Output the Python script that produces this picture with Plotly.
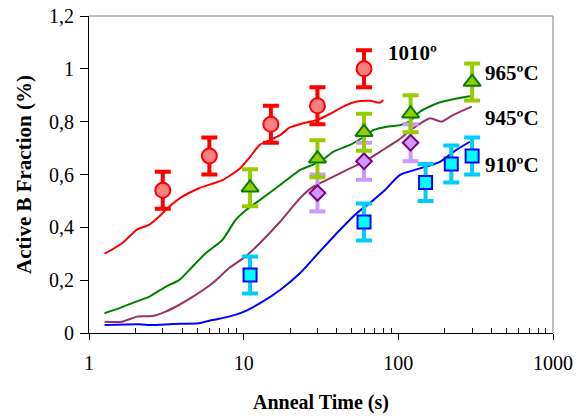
import math
import plotly.graph_objects as go

# ---------------- data ----------------
# measured points (anneal time in s, active fraction)
t_1010 = [3, 6, 15, 30, 60]
v_1010 = [0.54, 0.67, 0.79, 0.86, 1.00]
e_1010 = [0.07, 0.07, 0.07, 0.07, 0.07]

t_965 = [11, 30, 60, 120, 300]
v_965 = [0.55, 0.66, 0.76, 0.83, 0.95]
e_965 = [0.07, 0.07, 0.07, 0.07, 0.07]

t_945 = [30, 60, 120]
v_945 = [0.53, 0.65, 0.72]
e_945 = [0.07, 0.07, 0.07]

t_910 = [11, 60, 150, 220, 300]
v_910 = [0.22, 0.42, 0.57, 0.64, 0.67]
e_910 = [0.07, 0.07, 0.07, 0.07, 0.07]

# simulated curves
ct_1010 = [1.26, 1.64, 2.05, 2.44, 2.83, 3.29, 4.01, 5.14, 7.28, 9.46, 11, 12.7, 14.8,
           17.2, 19.9, 24.3, 29.6, 36.1, 44, 53.8, 65.5, 76, 80]
cv_1010 = [0.30, 0.34, 0.392, 0.409, 0.44, 0.478, 0.516, 0.548, 0.579, 0.623, 0.667, 0.712, 0.73,
           0.749, 0.778, 0.794, 0.806, 0.829, 0.857, 0.876, 0.879, 0.872, 0.882]

ct_965 = [1.26, 1.56, 2.0, 2.44, 3.13, 3.82, 4.66, 5.68, 7.28, 8.87, 10.05, 12.7, 17.2,
          23.1, 31.1, 37.9, 48.7, 60, 68.9, 84, 102, 118, 138, 177, 226, 298]
cv_965 = [0.075, 0.093, 0.118, 0.137, 0.175, 0.20, 0.251, 0.302, 0.352, 0.428, 0.459, 0.503, 0.56,
          0.617, 0.648, 0.686, 0.712, 0.743, 0.768, 0.781, 0.787, 0.80, 0.838, 0.869, 0.885, 0.897]

ct_945 = [1.26, 1.64, 2.05, 2.56, 3.13, 3.82, 4.9, 6.28, 8.03, 10.3, 12.7, 17.2, 23.1,
          28.2, 36.1, 48.7, 60, 76, 100, 125, 160, 190, 226, 298]
cv_945 = [0.043, 0.043, 0.062, 0.064, 0.081, 0.106, 0.144, 0.188, 0.245, 0.29, 0.34, 0.421, 0.51,
          0.554, 0.585, 0.623, 0.648, 0.686, 0.73, 0.775, 0.813, 0.80, 0.825, 0.857]

ct_910 = [1.26, 2.1, 2.56, 3.45, 5.14, 6.28, 8.03, 9.8, 12.7, 17.2, 23.1, 31, 41.9,
          53.8, 68.9, 82, 102, 138, 186, 237, 290]
cv_910 = [0.030, 0.033, 0.030, 0.034, 0.037, 0.049, 0.062, 0.078, 0.112, 0.163, 0.226, 0.308, 0.39,
          0.453, 0.503, 0.541, 0.598, 0.623, 0.648, 0.693, 0.724]

# series labels
label_text = ["1010º", "965ºC", "945ºC", "910ºC"]
label_t = [83, 355, 355, 355]
label_v = [1.06, 0.984, 0.814, 0.636]

# axis ticks
x_tickvals = [1, 10, 100, 1000]
x_ticktext = ["1", "10", "100", "1000"]
x_minor = [2, 3, 4, 5, 6, 7, 8, 9, 20, 30, 40, 50, 60, 70, 80, 90,
           200, 300, 400, 500, 600, 700, 800, 900]
y_tickvals = [0, 0.2, 0.4, 0.6, 0.8, 1.0, 1.2]
y_ticktext = ["0", "0,2", "0,4", "0,6", "0,8", "1", "1,2"]

FONT = "Liberation Serif, Times New Roman, serif"

fig = go.Figure()

# curves
for ct, cv, col in [(ct_910, cv_910, "#0000FF"), (ct_945, cv_945, "#993366"),
                    (ct_965, cv_965, "#008000"), (ct_1010, cv_1010, "#FF0000")]:
    fig.add_trace(go.Scatter(x=ct, y=cv, mode="lines",
                             line=dict(color=col, width=2, shape="spline", smoothing=0.6),
                             showlegend=False, hoverinfo="skip"))

# points with error bars
series = [
    (t_910, v_910, e_910, "square", 13, "#00FFFF", "#0000FF", "#00CCFF"),
    (t_945, v_945, e_945, "diamond", 12, "#CC99FF", "#800080", "#CC99FF"),
    (t_965, v_965, e_965, "triangle-up", 15, "#99CC00", "#008000", "#99CC00"),
    (t_1010, v_1010, e_1010, "circle", 15, "#FF8080", "#FF0000", "#FF0000"),
]
for t, v, e, sym, sz, fill, edge, ecol in series:
    fig.add_trace(go.Scatter(
        x=t, y=v, mode="markers",
        marker=dict(symbol=sym, size=sz, color=fill, line=dict(color=edge, width=2)),
        error_y=dict(type="data", array=e, visible=True, color=ecol, thickness=4, width=8),
        showlegend=False))

# labels
for txt, lt, lv in zip(label_text, label_t, label_v):
    fig.add_annotation(x=math.log10(lt), y=lv, xref="x", yref="y", text=txt,
                       showarrow=False, xanchor="left", yanchor="middle",
                       font=dict(family=FONT, size=21, color="black", weight="bold"))

# top / right frame
fig.add_shape(type="line", xref="paper", yref="paper", x0=0, x1=1, y0=1, y1=1,
              line=dict(color="#808080", width=1))
fig.add_shape(type="line", xref="paper", yref="paper", x0=1, x1=1, y0=0, y1=1,
              line=dict(color="#808080", width=1))

fig.update_layout(
    width=585, height=418, autosize=False,
    margin=dict(l=89, r=32, t=16, b=85),
    paper_bgcolor="white", plot_bgcolor="white",
    font=dict(family=FONT, color="black", size=20),
    xaxis=dict(
        type="log", range=[0, 3], tickvals=x_tickvals, ticktext=x_ticktext,
        automargin=False, ticklabeloverflow="allow",
        showline=True, linecolor="black", linewidth=1, showgrid=False, zeroline=False,
        ticks="outside", ticklen=6, tickcolor="black", tickwidth=1,
        ticklabelstandoff=6,
        minor=dict(tickvals=x_minor, ticks="inside", ticklen=5, tickcolor="black", showgrid=False),
        tickfont=dict(family=FONT, size=20),
        title=dict(text="Anneal Time (s)", standoff=21,
                   font=dict(family=FONT, size=20, weight="bold")),
    ),
    yaxis=dict(
        range=[0, 1.2], tickvals=y_tickvals, ticktext=y_ticktext,
        automargin=False, ticklabeloverflow="allow",
        showline=True, linecolor="black", linewidth=1, showgrid=False, zeroline=False,
        ticks="outside", ticklen=8, tickcolor="black", tickwidth=1,
        ticklabelstandoff=2,
        tickfont=dict(family=FONT, size=20),
        title=dict(text="Active B Fraction (%)", standoff=11,
                   font=dict(family=FONT, size=21, weight="bold")),
    ),
)

# remove the browser's default 8px page margin so the figure fills the window
fig.write_html("out.html",
               config={"displayModeBar": False},
               post_script="document.body.style.margin='0';document.body.style.overflow='hidden';")
